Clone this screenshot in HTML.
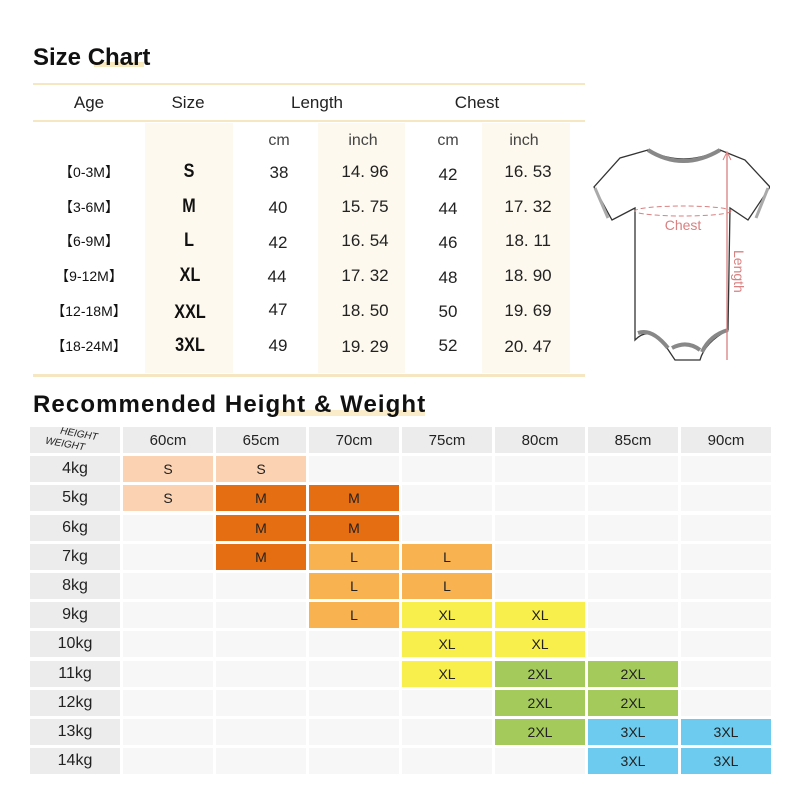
<!DOCTYPE html>
<html><head><meta charset="utf-8"><style>
*{margin:0;padding:0;box-sizing:border-box}
body{width:800px;height:800px;background:#fff;position:relative;overflow:hidden;font-family:"Liberation Sans","Noto Sans CJK SC",sans-serif;color:#222}
.abs{position:absolute}
.t{position:absolute;transform:translate(-50%,-50%);white-space:nowrap}
.h1{position:absolute;font-weight:bold;font-size:24px;color:#111;white-space:nowrap;transform:translateY(-50%)}
.line{position:absolute;left:33px;width:552px;height:2px;background:#f6e6c2}
.shade{position:absolute;top:123px;height:250px;background:#fdf9ee}
.hd{font-size:17px;color:#222}
.u{font-size:16px;color:#444}
.n{font-size:17px;color:#222}
.s{font-size:19px;font-weight:bold;color:#111;transform:translate(-50%,-50%) scaleX(0.85)}
.a{font-size:14px;color:#111}
.grid{position:absolute;left:30px;top:427px;display:grid;grid-template-columns:repeat(8,90px);column-gap:3px;grid-auto-rows:26px;row-gap:3.2px}
.grid div{background:#f7f7f7;display:flex;align-items:center;justify-content:center;font-size:14px;color:#222}
.grid .g{background:#ececec;font-size:15px}
.grid .l{background:#ececec;font-size:16px}
.grid .p{background:#fbd3b3}.grid .d{background:#e56e12}.grid .o{background:#f8b250}
.grid .y{background:#f9ef4c}.grid .gr{background:#a4ca5c}.grid .b{background:#6ccbee}
</style></head><body>
<div class="abs" style="left:94px;top:62px;width:50px;height:5px;background:#f6dfa3;opacity:.7"></div>
<div class="h1" style="left:33px;top:58px">Size Chart</div>
<div class="line" style="top:83px"></div>
<div class="line" style="top:120px"></div>
<div class="line" style="top:374px;height:3px"></div>
<div class="shade" style="left:145px;width:88px"></div>
<div class="shade" style="left:318px;width:87px"></div>
<div class="shade" style="left:482px;width:88px"></div>
<div class="t hd" style="left:89px;top:103px">Age</div>
<div class="t hd" style="left:188px;top:103px">Size</div>
<div class="t hd" style="left:317px;top:103px">Length</div>
<div class="t hd" style="left:477px;top:103px">Chest</div>
<div class="t u" style="left:279px;top:141px">cm</div>
<div class="t u" style="left:363px;top:141px">inch</div>
<div class="t u" style="left:448px;top:141px">cm</div>
<div class="t u" style="left:524px;top:141px">inch</div>

<div class="t a" style="left:89px;top:172px">【0-3M】</div><div class="t s" style="left:189px;top:172px">S</div><div class="t n" style="left:279px;top:173px">38</div><div class="t n" style="left:365px;top:172px">14. 96</div><div class="t n" style="left:448px;top:175px">42</div><div class="t n" style="left:528px;top:172px">16. 53</div>
<div class="t a" style="left:89px;top:207px">【3-6M】</div><div class="t s" style="left:189px;top:207px">M</div><div class="t n" style="left:278px;top:208px">40</div><div class="t n" style="left:365px;top:207px">15. 75</div><div class="t n" style="left:448px;top:209px">44</div><div class="t n" style="left:528px;top:207px">17. 32</div>
<div class="t a" style="left:89px;top:241px">【6-9M】</div><div class="t s" style="left:189px;top:241px">L</div><div class="t n" style="left:278px;top:243px">42</div><div class="t n" style="left:365px;top:241px">16. 54</div><div class="t n" style="left:448px;top:243px">46</div><div class="t n" style="left:528px;top:241px">18. 11</div>
<div class="t a" style="left:89px;top:276px">【9-12M】</div><div class="t s" style="left:190px;top:276px">XL</div><div class="t n" style="left:277px;top:277px">44</div><div class="t n" style="left:365px;top:276px">17. 32</div><div class="t n" style="left:448px;top:278px">48</div><div class="t n" style="left:528px;top:276px">18. 90</div>
<div class="t a" style="left:89px;top:311px">【12-18M】</div><div class="t s" style="left:190px;top:313px">XXL</div><div class="t n" style="left:278px;top:310px">47</div><div class="t n" style="left:365px;top:311px">18. 50</div><div class="t n" style="left:448px;top:312px">50</div><div class="t n" style="left:528px;top:311px">19. 69</div>
<div class="t a" style="left:89px;top:346px">【18-24M】</div><div class="t s" style="left:190px;top:346px">3XL</div><div class="t n" style="left:278px;top:346px">49</div><div class="t n" style="left:365px;top:347px">19. 29</div><div class="t n" style="left:448px;top:346px">52</div><div class="t n" style="left:528px;top:347px">20. 47</div>

<svg class="abs" style="left:590px;top:130px" width="180" height="240" viewBox="0 0 180 240">
<g fill="#fff" stroke="#333" stroke-width="1.3">
<path d="M58 20 L30 28 L4 57 L22 90 L45 78 L45 210 Q60 195 75 215 L85 230 L110 230 Q115 212 138 200 L140 78 L158 90 L180 57 L155 30 L130 20 Q93 38 58 20 Z"/>
</g>
<path d="M58 20 Q93 42 130 20" fill="none" stroke="#888" stroke-width="4"/>
<path d="M48 203 Q62 198 78 218 M112 222 Q120 205 138 200 M82 218 Q97 210 110 220" fill="none" stroke="#888" stroke-width="4"/>
<path d="M18 88 L5 58 M166 88 L178 58" stroke="#aaa" stroke-width="3"/>
<ellipse cx="93" cy="81" rx="48" ry="5" fill="none" stroke="#d98080" stroke-dasharray="5 3"/>
<line x1="137" y1="22" x2="137" y2="230" stroke="#d98080" stroke-width="1.3"/>
<path d="M133 30 L137 22 L141 30" fill="none" stroke="#d98080"/>
<text x="93" y="100" font-size="14" fill="#d98080" text-anchor="middle" font-family="Liberation Sans">Chest</text>
<text x="144" y="120" font-size="14" fill="#d98080" transform="rotate(90 144 120)" font-family="Liberation Sans">Length</text>
</svg>

<div class="abs" style="left:275px;top:410px;width:150px;height:6px;background:#f6dfa3;opacity:.6"></div>
<div class="h1" style="left:33px;top:405px;font-size:24px;letter-spacing:1.1px">Recommended Height &amp; Weight</div>

<div class="grid">
<div class="g" style="position:relative;font-size:10px;font-style:italic"><span style="position:absolute;left:30px;top:2px;transform:rotate(10deg)">HEIGHT</span><span style="position:absolute;left:15px;top:12px;transform:rotate(10deg)">WEIGHT</span></div><div class="g">60cm</div><div class="g">65cm</div><div class="g">70cm</div><div class="g">75cm</div><div class="g">80cm</div><div class="g">85cm</div><div class="g">90cm</div>
<div class="l">4kg</div><div class="p">S</div><div class="p">S</div><div></div><div></div><div></div><div></div><div></div>
<div class="l">5kg</div><div class="p">S</div><div class="d">M</div><div class="d">M</div><div></div><div></div><div></div><div></div>
<div class="l">6kg</div><div></div><div class="d">M</div><div class="d">M</div><div></div><div></div><div></div><div></div>
<div class="l">7kg</div><div></div><div class="d">M</div><div class="o">L</div><div class="o">L</div><div></div><div></div><div></div>
<div class="l">8kg</div><div></div><div></div><div class="o">L</div><div class="o">L</div><div></div><div></div><div></div>
<div class="l">9kg</div><div></div><div></div><div class="o">L</div><div class="y">XL</div><div class="y">XL</div><div></div><div></div>
<div class="l">10kg</div><div></div><div></div><div></div><div class="y">XL</div><div class="y">XL</div><div></div><div></div>
<div class="l">11kg</div><div></div><div></div><div></div><div class="y">XL</div><div class="gr">2XL</div><div class="gr">2XL</div><div></div>
<div class="l">12kg</div><div></div><div></div><div></div><div></div><div class="gr">2XL</div><div class="gr">2XL</div><div></div>
<div class="l">13kg</div><div></div><div></div><div></div><div></div><div class="gr">2XL</div><div class="b">3XL</div><div class="b">3XL</div>
<div class="l">14kg</div><div></div><div></div><div></div><div></div><div></div><div class="b">3XL</div><div class="b">3XL</div>
</div>
</body></html>
